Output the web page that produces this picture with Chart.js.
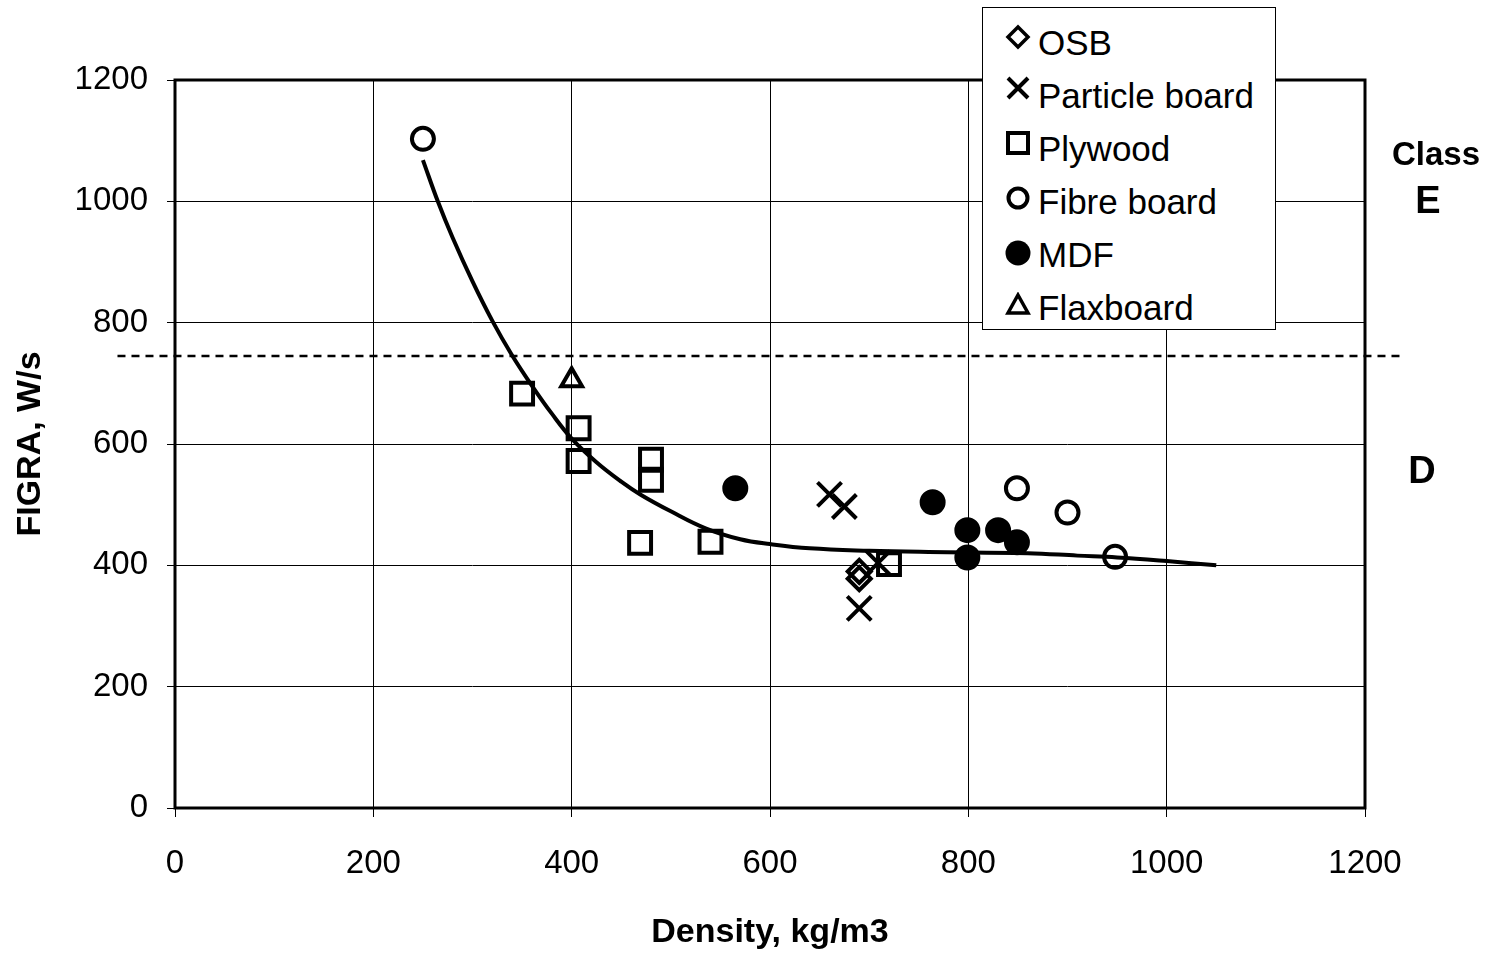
<!DOCTYPE html>
<html lang="en">
<head>
    <meta charset="UTF-8">
    <title>FIGRA vs Density</title>
    <script src="https://cdn.jsdelivr.net/npm/chart.js"></script>
    <style>
        body {
            margin: 0;
            background: #ffffff;
            font-family: 'Liberation Sans', Arial, sans-serif;
        }
        #wrap {
            position: relative;
            width: 1489px;
            height: 954px;
        }
        #legend {
            position: absolute;
            left: 982px;
            top: 7px;
            width: 292px;
            height: 321px;
            border: 1px solid #000;
            background: #fff;
        }
        .row {
            position: absolute;
            left: 0;
            width: 100%;
        }
        .row svg {
            position: absolute;
            left: 22px;
        }
        .row span {
            position: absolute;
            left: 55px;
            font-size: 35px;
            line-height: 35px;
            white-space: nowrap;
            color: #000;
        }
        .cls {
            position: absolute;
            font-weight: bold;
            text-align: center;
            color: #000;
            width: 120px;
        }
    </style>
</head>
<body>
<div id="wrap">
    <canvas id="chart" width="1489" height="954"></canvas>
    <div id="legend"></div>
    <div class="cls" style="left:1376px; top:137px; font-size:33px; line-height:33px;">Class</div>
    <div class="cls" style="left:1368px; top:181px; font-size:38px; line-height:38px;">E</div>
    <div class="cls" style="left:1362px; top:451px; font-size:38px; line-height:38px;">D</div>
</div>
<script>
    // values (density kg/m3, FIGRA W/s)
    const osbX = [690, 690];
    const osbY = [390, 378];
    const particleX = [660, 675, 690, 709];
    const particleY = [517, 497, 329, 404];
    const plywoodX = [350, 407, 407, 480, 480, 469, 540, 720];
    const plywoodY = [683, 626, 572, 574, 541, 437, 439, 402];
    const fibreX = [250, 849, 900, 948];
    const fibreY = [1103, 527, 487, 414];
    const mdfX = [565, 764, 799, 830, 849, 799];
    const mdfY = [527, 504, 458, 458, 438, 413];
    const flaxX = [400];
    const flaxY = [705];

    // trend curve
    const trendX = [250, 265, 280, 300, 320, 340, 360, 380, 400, 425, 450, 470, 500, 535, 570, 600, 640, 700, 760, 860, 910, 950, 1000, 1050];
    const trendY = [1068, 1000, 940, 868, 803, 746, 696, 650, 609, 570, 538, 516, 489, 461, 443, 435, 428, 424, 422, 420, 416, 413, 407, 400];

    // class E / D limit
    const limitX = [-58, 1240];
    const limitY = 745;

    const xTicks = [0, 200, 400, 600, 800, 1000, 1200];
    const yTicks = [0, 200, 400, 600, 800, 1000, 1200];

    const fontFamily = "'Liberation Sans', Arial, sans-serif";

    function pts(xs, ys) {
        return xs.map((x, i) => ({ x: x, y: ys[i] }));
    }

    const clear = 'rgba(0,0,0,0)';

    function marker(label, xs, ys, style, radius, width, fillColor) {
        return {
            label: label, data: pts(xs, ys), pointStyle: style,
            pointRadius: radius, radius: radius,
            pointBorderWidth: width, borderWidth: width,
            pointBorderColor: '#000', borderColor: '#000',
            pointBackgroundColor: fillColor, backgroundColor: fillColor
        };
    }

    const datasets = [
        marker('OSB', osbX, osbY, 'rectRot', 11.5, 4, clear),
        marker('Particle board', particleX, particleY, 'crossRot', 17, 4, clear),
        marker('Plywood', plywoodX, plywoodY, 'rect', 15.5, 4, clear),
        marker('Fibre board', fibreX, fibreY, 'circle', 11, 4, clear),
        marker('MDF', mdfX, mdfY, 'circle', 12, 2, '#000'),
        marker('Flaxboard', flaxX, flaxY, 'triangle', 12, 4, clear),
        {
            type: 'line', label: 'trend', data: pts(trendX, trendY),
            borderColor: '#000', borderWidth: 4, pointRadius: 0,
            tension: 0.4, fill: false
        },
        {
            type: 'line', label: 'limit', data: pts(limitX, [limitY, limitY]),
            borderColor: '#000', borderWidth: 2.5, borderDash: [8, 6], pointRadius: 0,
            fill: false, clip: false
        }
    ];

    const frame = {
        id: 'frame',
        beforeDatasetsDraw(chart) {
            const { ctx, chartArea: a } = chart;
            ctx.save();
            ctx.strokeStyle = '#000';
            ctx.lineWidth = 3;
            ctx.strokeRect(a.left, a.top, a.right - a.left, a.bottom - a.top);
            ctx.restore();
        }
    };

    new Chart(document.getElementById('chart'), {
        type: 'scatter',
        data: { datasets: datasets },
        plugins: [frame],
        options: {
            responsive: false,
            animation: false,
            layout: { padding: { left: 0, right: 124, top: 80, bottom: 0 } },
            plugins: {
                legend: { display: false },
                tooltip: { enabled: false }
            },
            scales: {
                x: {
                    type: 'linear', min: 0, max: 1200,
                    afterBuildTicks: s => { s.ticks = xTicks.map(v => ({ value: v })); },
                    afterFit: s => { s.height = 146; },
                    grid: { color: '#000', lineWidth: 1, tickLength: 9, tickColor: '#000' },
                    border: { display: false },
                    ticks: {
                        color: '#000', padding: 27, font: { family: fontFamily, size: 33 },
                        callback: v => String(v)
                    },
                    title: {
                        display: true, text: 'Density, kg/m3', color: '#000',
                        padding: { top: 0, bottom: 1 },
                        font: { family: fontFamily, size: 34, weight: 'bold' }
                    }
                },
                y: {
                    type: 'linear', min: 0, max: 1200,
                    afterBuildTicks: s => { s.ticks = yTicks.map(v => ({ value: v })); },
                    afterFit: s => { s.width = 175; },
                    grid: { color: '#000', lineWidth: 1, tickLength: 8, tickColor: '#000' },
                    border: { display: false },
                    ticks: {
                        color: '#000', padding: 19, font: { family: fontFamily, size: 33 },
                        callback: v => String(v)
                    },
                    title: {
                        display: true, text: 'FIGRA, W/s', color: '#000',
                        padding: { top: 10, bottom: 0 },
                        font: { family: fontFamily, size: 34, weight: 'bold' }
                    }
                }
            }
        }
    });

    // legend drawn as html, markers as small svg shapes
    const legendRows = [
        { name: 'OSB', text: 34.5, mark: 29, svg: '<polygon points="13,3 23,13 13,23 3,13" fill="none" stroke="#000" stroke-width="3.5"/>' },
        { name: 'Particle board', text: 87.5, mark: 80, svg: '<path d="M3,3 L23,23 M23,3 L3,23" stroke="#000" stroke-width="4"/>' },
        { name: 'Plywood', text: 140.5, mark: 135, svg: '<rect x="3" y="3" width="20" height="20" fill="none" stroke="#000" stroke-width="4"/>' },
        { name: 'Fibre board', text: 193.5, mark: 190, svg: '<circle cx="13" cy="13" r="9.5" fill="none" stroke="#000" stroke-width="4"/>' },
        { name: 'MDF', text: 246.5, mark: 245, svg: '<circle cx="13" cy="13" r="12.5" fill="#000"/>' },
        { name: 'Flaxboard', text: 299.5, mark: 297, svg: '<polygon points="13,3 23,21 3,21" fill="none" stroke="#000" stroke-width="3.5"/>' }
    ];
    const legend = document.getElementById('legend');
    legendRows.forEach(r => {
        const row = document.createElement('div');
        row.className = 'row';
        row.style.top = '0px';
        row.innerHTML =
            `<svg width="26" height="26" style="top:${r.mark - 13}px">${r.svg}</svg>` +
            `<span style="top:${r.text - 17.5}px">${r.name}</span>`;
        legend.appendChild(row);
    });
</script>
</body>
</html>
